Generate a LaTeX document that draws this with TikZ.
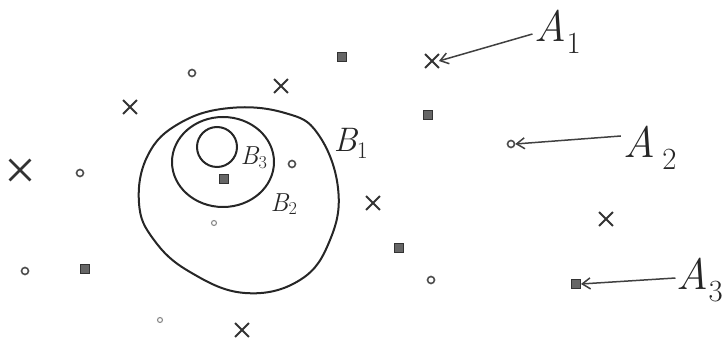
\documentclass[tikz,border=0pt]{standalone}
\usepackage{tikz}
\usetikzlibrary{arrows.meta,positioning,shapes.misc}

\begin{document}
\begin{tikzpicture}[
	x=1pt, y=-1pt,
	>={Straight Barb[length=8pt,width=11pt]},
	xmark/.style={cross out, draw=black!80, line width=1.8pt, minimum size=12pt, inner sep=0pt},
	bigx/.style={xmark, line width=2.8pt, minimum size=18pt},
	omark/.style={circle, draw=black!70, line width=1.6pt, minimum size=7pt, inner sep=0pt},
	tiny/.style={omark, draw=black!45, line width=1.1pt, minimum size=5pt},
	smark/.style={rectangle, draw=black!80, fill=black!60, line width=0.9pt, minimum size=9pt, inner sep=0pt},
	set/.style={line width=2pt, black!85},
	bname/.style={font=\fontsize{34}{36}\selectfont\itshape, black!85, inner sep=0pt},
	sname/.style={font=\fontsize{26}{28}\selectfont\itshape, black!85, inner sep=0pt},
	aname/.style={font=\fontsize{44}{46}\selectfont\itshape, black!85, inner sep=0pt},
	arr/.style={->, line width=1.5pt, black!75}
	]
	\useasboundingbox (0,0) rectangle (728,344);
	%% ─── NESTED SETS ───────────────────────────────────────────
	\draw[set] plot[smooth cycle, tension=0.7] coordinates {
		(230,108) (285,113) (318,134) (338,188) (330,240) (300,280)
		(245,293) (190,272) (154,240) (139,203) (148,155) (180,123)};
	\draw[set] (223,162) ellipse [x radius=51, y radius=45];
	\draw[set] (217,147) circle [radius=20];
	\node[bname] (b1) at (351,143) {B\textsubscript{\upshape 1}};
	\node[sname] (b2) at (284,204) {B\textsubscript{\upshape 2}};
	\node[sname] (b3) at (254,158) {B\textsubscript{\upshape 3}};
	%% ─── POINTS ────────────────────────────────────────────────
	\node[xmark] (x1) at (432,61) {};
	\node[xmark] (x2) at (281,86) {};
	\node[xmark] (x3) at (130,107) {};
	\node[bigx]  (x4) at (20,170) {};
	\node[xmark] (x5) at (373,203) {};
	\node[xmark] (x6) at (606,219) {};
	\node[xmark] (x7) at (242,330) {};

	\node[omark] (o1) at (192,73) {};
	\node[omark] (o2) at (80,173) {};
	\node[omark] (o3) at (292,164) {};
	\node[omark] (o4) at (511,144) {};
	\node[omark] (o5) at (25,271) {};
	\node[omark] (o6) at (431,280) {};
	\node[tiny]  (o7) at (160,320) {};
	\node[tiny]  (o8) at (214,223) {};

	\node[smark] (s1) at (342,57) {};
	\node[smark] (s2) at (428,115) {};
	\node[smark] (s3) at (224,179) {};
	\node[smark] (s4) at (399,248) {};
	\node[smark] (s5) at (85,269) {};
	\node[smark] (s6) at (576,284) {};
	%% ─── LABELLED POINTS ───────────────────────────────────────
	\node[aname] (a1) at (558,32) {A\textsubscript{\upshape 1}};
	\node[aname] (a2) at (650,148) {A\,\textsubscript{\upshape 2}};
	\node[aname] (a3) at (700,280) {A\textsubscript{\upshape 3}};
	\draw[arr] (a1.west) ++(-2,2) -- (x1.east);
	\draw[arr] (a2.west) ++(-2,-12) -- (o4.east);
	\draw[arr] (a3.west) ++(-1,-2) -- (s6.east);
\end{tikzpicture}
\end{document}
